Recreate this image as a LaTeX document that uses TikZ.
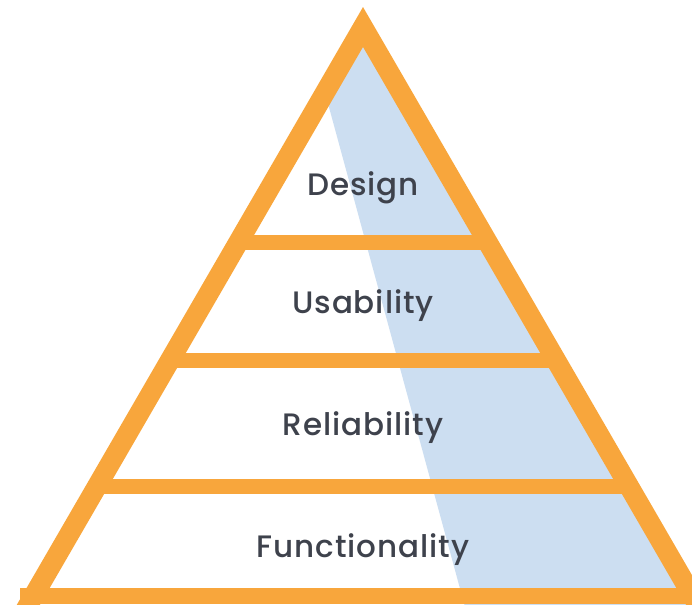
\documentclass[tikz,border=0pt]{standalone}
\usepackage{fontspec}
\setmainfont{Poppins}[UprightFont=* Medium,LetterSpace=3]
\usepackage{xcolor}
\usepackage{tikz}
\definecolor{pyrorange}{RGB}{248,166,60}
\definecolor{pyrblue}{RGB}{204,222,241}
\definecolor{pyrtext}{RGB}{62,66,76}

\begin{document}
\begin{tikzpicture}
			[x=1pt,y=-1pt,
			side/.style={draw=pyrorange,line width=20pt,line join=miter},
			bar/.style={draw=pyrorange,line width=15pt},
			level/.style={anchor=base,text=pyrtext,font=\fontsize{31}{36}\selectfont}]
			\useasboundingbox (0,0) rectangle (692,604);
			\clip (0,0) rectangle (692,604);
			\fill[white] (0,0) rectangle (692,604);
			% shaded right part
			\fill[pyrblue] (325,92.5) -- (363,27) -- (720,640) -- (474,640) -- cycle;
			% the two sides
			\coordinate (top) at (363,27);
			\coordinate (bl) at (8,640);
			\coordinate (br) at (718,640);
			\draw[side] (bl) -- (top) -- (br);
			% floors
			\coordinate (b1l) at (238.7,242); \coordinate (b1r) at (487.3,242);
			\coordinate (b2l) at (170.5,360); \coordinate (b2r) at (555.5,360);
			\coordinate (b3l) at (97.7,486);  \coordinate (b3r) at (628.3,486);
			\coordinate (b4l) at (20,596);    \coordinate (b4r) at (706,596);
			\draw[bar] (b1l) -- (b1r);
			\draw[bar] (b2l) -- (b2r);
			\draw[bar] (b3l) -- (b3r);
			\draw[bar,line width=16pt] (b4l) -- (b4r);
			% labels
			\node[level] (design) at (363,195) {Design};
			\node[level] (usab) at (363,313) {Usability};
			\node[level] (relia) at (363,435) {Reliability};
			\node[level] (func) at (363,557) {Functionality};
		\end{tikzpicture}
\end{document}
